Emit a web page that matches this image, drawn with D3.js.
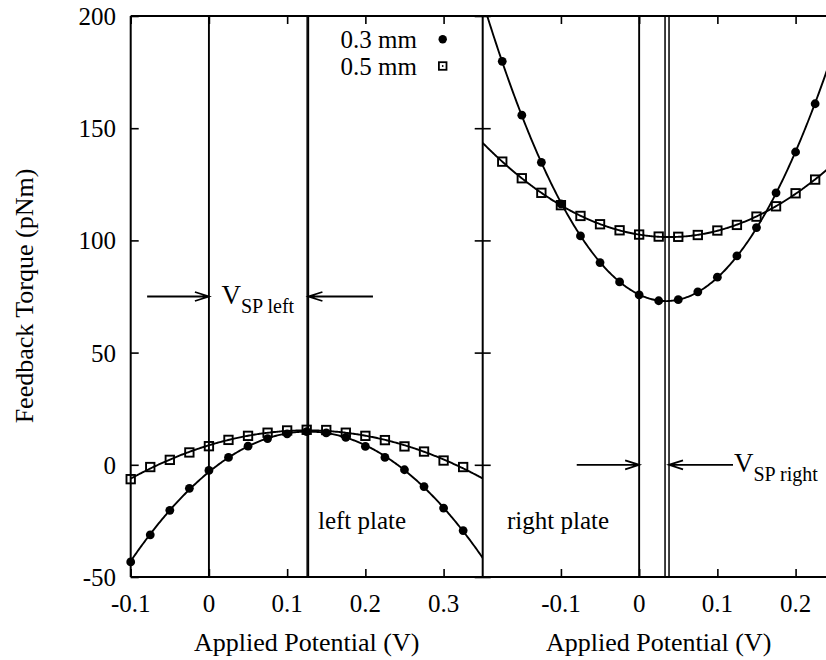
<!DOCTYPE html>
<html>
<head>
<meta charset="utf-8">
<script src="https://cdn.jsdelivr.net/npm/d3@7"></script>
<style>
  html, body { margin: 0; padding: 0; background: #fff; }
  svg { display: block; }
  text { font-family: "Liberation Serif", "DejaVu Serif", serif; fill: #000; }
</style>
</head>
<body>
<svg id="chart" width="826" height="660"></svg>
<script>
// Measured feedback torque vs applied potential, left and right plates
const leftV = [-0.1, -0.075, -0.05, -0.025, 0, 0.025, 0.05, 0.075, 0.1, 0.125, 0.15, 0.175, 0.2, 0.225, 0.25, 0.275, 0.3, 0.325];
const left03 = [-43.3, -31.2, -20.3, -10.5, -2.5, 3.3, 8.3, 11.7, 13.8, 14.8, 14.2, 12.2, 8.2, 3.3, -2.2, -9.7, -19.3, -29.3];
const left05 = [-6.4, -1.0, 2.2, 5.5, 8.3, 11.1, 12.9, 14.3, 15.3, 15.6, 15.5, 14.3, 12.9, 11.0, 8.2, 5.9, 1.9, -1.0];

const rightV = [-0.175, -0.15, -0.125, -0.1, -0.075, -0.05, -0.025, 0, 0.025, 0.05, 0.075, 0.1, 0.125, 0.15, 0.175, 0.2, 0.225];
const right03 = [179.8, 155.8, 134.8, 116.3, 102.0, 90.1, 81.5, 75.7, 73.1, 73.6, 77.1, 83.6, 93.1, 105.7, 121.2, 139.4, 160.9];
const right05 = [135.1, 127.7, 121.2, 115.7, 110.9, 107.2, 104.5, 102.6, 101.7, 101.6, 102.4, 104.4, 106.9, 110.6, 115.2, 121.0, 127.1];

// Axis ticks
const yTicks = [-50, 0, 50, 100, 150, 200];
const leftXTicks = [-0.1, 0, 0.1, 0.2, 0.3];
const rightXTicks = [-0.1, 0, 0.1, 0.2];

// Marker lines: zero potential and set-point potentials
const leftMarkers = [0, 0.1256, 0.1272];
const rightMarkers = [0, 0.0331, 0.0382];
const seriesNames = ["0.3 mm", "0.5 mm"];

const svg = d3.select("#chart");
const yTop = 16, yBottom = 577, panelW = 352;
const x0L = 130.7, x0R = x0L + panelW;

const y = d3.scaleLinear().domain([-50, 200]).range([yBottom, yTop]);
const xL = d3.scaleLinear().domain([-0.1, 0.35]).range([x0L, x0R]);
const xR = d3.scaleLinear().domain([-0.2, 0.25]).range([x0R, x0R + panelW]);

// least-squares parabola through the measured points
function quadFit(xs, ys) {
  let s = [0,0,0,0,0], t = [0,0,0];
  xs.forEach((x, i) => {
    let p = 1;
    for (let k = 0; k < 5; k++) { s[k] += p; if (k < 3) t[k] += p * ys[i]; p *= x; }
  });
  const A = [[s[0], s[1], s[2], t[0]], [s[1], s[2], s[3], t[1]], [s[2], s[3], s[4], t[2]]];
  for (let c = 0; c < 3; c++) {
    for (let r = c + 1; r < 3; r++) {
      const f = A[r][c] / A[c][c];
      for (let k = c; k < 4; k++) A[r][k] -= f * A[c][k];
    }
  }
  const b = [0,0,0];
  for (let r = 2; r >= 0; r--) {
    let v = A[r][3];
    for (let k = r + 1; k < 3; k++) v -= A[r][k] * b[k];
    b[r] = v / A[r][r];
  }
  return x => b[0] + b[1] * x + b[2] * x * x;
}

const defs = svg.append("defs");
[["clipL", x0L], ["clipR", x0R]].forEach(([id, x]) => {
  defs.append("clipPath").attr("id", id).append("rect")
    .attr("x", x).attr("y", yTop).attr("width", panelW).attr("height", yBottom - yTop);
});

function drawPanel(x, xs, s03, s05, markers, clipId) {
  const g = svg.append("g");
  const [d0, d1] = x.domain();
  // marker lines
  markers.forEach((v, i) => {
    g.append("line").attr("x1", x(v)).attr("x2", x(v)).attr("y1", yTop).attr("y2", yBottom)
      .attr("stroke", "#000").attr("stroke-width", i === 0 ? 1.9 : 1.5);
  });
  // fitted curves
  const samples = d3.range(0, 301).map(i => d0 + (d1 - d0) * i / 300);
  [s03, s05].forEach(ys => {
    const f = quadFit(xs, ys);
    g.append("path")
      .attr("clip-path", `url(#${clipId})`)
      .attr("d", d3.line().x(v => x(v)).y(v => y(f(v)))(samples))
      .attr("fill", "none").attr("stroke", "#000").attr("stroke-width", 1.9);
  });
  // 0.5 mm squares
  g.selectAll(null).data(xs.map((v, i) => [v, s05[i]])).join("rect")
    .attr("x", d => x(d[0]) - 4.2).attr("y", d => y(d[1]) - 4.2)
    .attr("width", 8.4).attr("height", 8.4)
    .attr("fill", "none").attr("stroke", "#000").attr("stroke-width", 1.9);
  // 0.3 mm dots
  g.selectAll(null).data(xs.map((v, i) => [v, s03[i]])).join("circle")
    .attr("cx", d => x(d[0])).attr("cy", d => y(d[1])).attr("r", 4.4).attr("fill", "#000");
}

drawPanel(xL, leftV, left03, left05, leftMarkers, "clipL");
drawPanel(xR, rightV, right03, right05, rightMarkers, "clipR");

// frame
const frame = svg.append("g").attr("stroke", "#000").attr("stroke-width", 2).attr("fill", "none");
frame.append("line").attr("x1", x0L).attr("x2", 826).attr("y1", yTop).attr("y2", yTop);
frame.append("line").attr("x1", x0L).attr("x2", 826).attr("y1", yBottom).attr("y2", yBottom);
frame.append("line").attr("x1", x0L).attr("x2", x0L).attr("y1", yTop).attr("y2", yBottom);
frame.append("line").attr("x1", x0R).attr("x2", x0R).attr("y1", yTop).attr("y2", yBottom);

// axes with inward ticks
const tickFont = "25px";
const gyL = svg.append("g").attr("transform", `translate(${x0L},0)`)
  .call(d3.axisRight(y).tickValues(yTicks).tickSize(8).tickFormat(""));
const gyM1 = svg.append("g").attr("transform", `translate(${x0R},0)`)
  .call(d3.axisLeft(y).tickValues(yTicks).tickSize(8).tickFormat(""));
const gyM2 = svg.append("g").attr("transform", `translate(${x0R},0)`)
  .call(d3.axisRight(y).tickValues(yTicks).tickSize(8).tickFormat(""));
const gxLb = svg.append("g").attr("transform", `translate(0,${yBottom})`)
  .call(d3.axisTop(xL).tickValues(leftXTicks).tickSize(8).tickFormat(""));
const gxLt = svg.append("g").attr("transform", `translate(0,${yTop})`)
  .call(d3.axisBottom(xL).tickValues(leftXTicks).tickSize(8).tickFormat(""));
const gxRb = svg.append("g").attr("transform", `translate(0,${yBottom})`)
  .call(d3.axisTop(xR).tickValues(rightXTicks).tickSize(8).tickFormat(""));
const gxRt = svg.append("g").attr("transform", `translate(0,${yTop})`)
  .call(d3.axisBottom(xR).tickValues(rightXTicks).tickSize(8).tickFormat(""));
[gyL, gyM1, gyM2, gxLb, gxLt, gxRb, gxRt].forEach(g => {
  g.select(".domain").remove();
  g.selectAll(".tick line").attr("stroke", "#000").attr("stroke-width", 1.6);
});

// tick labels (plain hyphen for negatives)
svg.append("g").selectAll("text").data(yTicks).join("text")
  .attr("x", 116).attr("y", d => y(d) + 9).attr("text-anchor", "end")
  .style("font-size", tickFont).text(d => String(d));
const fmtX = d => d === 0 ? "0" : d.toFixed(1);
svg.append("g").selectAll("text").data(leftXTicks).join("text")
  .attr("x", d => xL(d)).attr("y", 612).attr("text-anchor", "middle")
  .style("font-size", tickFont).text(fmtX);
svg.append("g").selectAll("text").data(rightXTicks).join("text")
  .attr("x", d => xR(d)).attr("y", 612).attr("text-anchor", "middle")
  .style("font-size", tickFont).text(fmtX);

// axis titles
svg.append("text").attr("x", (x0L + x0R) / 2).attr("y", 651).attr("text-anchor", "middle")
  .style("font-size", "26px").text("Applied Potential (V)");
svg.append("text").attr("x", x0R + panelW / 2).attr("y", 651).attr("text-anchor", "middle")
  .style("font-size", "26px").text("Applied Potential (V)");
svg.append("text").attr("transform", "translate(33,296) rotate(-90)").attr("text-anchor", "middle")
  .style("font-size", "26px").text("Feedback Torque (pNm)");

// panel labels
svg.append("text").attr("x", 318).attr("y", 529).style("font-size", "25px").text("left plate");
svg.append("text").attr("x", 507).attr("y", 529).style("font-size", "25px").text("right plate");

// legend
const leg = svg.append("g");
leg.append("text").attr("x", 417).attr("y", 48).attr("text-anchor", "end").style("font-size", "25px").text(seriesNames[0]);
leg.append("text").attr("x", 417).attr("y", 75).attr("text-anchor", "end").style("font-size", "25px").text(seriesNames[1]);
leg.append("circle").attr("cx", 442.7).attr("cy", 39.3).attr("r", 4.2).attr("fill", "#000");
leg.append("rect").attr("x", 438.9).attr("y", 62.2).attr("width", 7.6).attr("height", 7.6)
  .attr("fill", "none").attr("stroke", "#000").attr("stroke-width", 1.8);
leg.append("circle").attr("cx", 442.7).attr("cy", 66).attr("r", 0.9).attr("fill", "#000");

// set-point arrows
function arrow(x1, x2, yy) {
  const dir = Math.sign(x2 - x1);
  const p = d3.path();
  p.moveTo(x1, yy); p.lineTo(x2, yy);
  p.moveTo(x2 - dir * 14, yy - 4.5); p.lineTo(x2, yy); p.lineTo(x2 - dir * 14, yy + 4.5);
  svg.append("path").attr("d", p.toString()).attr("fill", "none")
    .attr("stroke", "#000").attr("stroke-width", 1.8);
}
arrow(xL(-0.079), xL(0), y(75));
arrow(xL(0.2097), xL(0.1272), y(75));
arrow(xR(-0.0798), xR(0), y(0));
arrow(xR(0.12), xR(0.0382), y(0));

function vsp(xp, yp, sub) {
  const t = svg.append("text").attr("x", xp).attr("y", yp).style("font-size", "27px");
  t.append("tspan").text("V");
  t.append("tspan").attr("dy", 9).style("font-size", "20px").text(sub);
}
vsp(221.5, 303.5, "SP left");
vsp(734, 472, "SP right");
</script>
</body>
</html>
